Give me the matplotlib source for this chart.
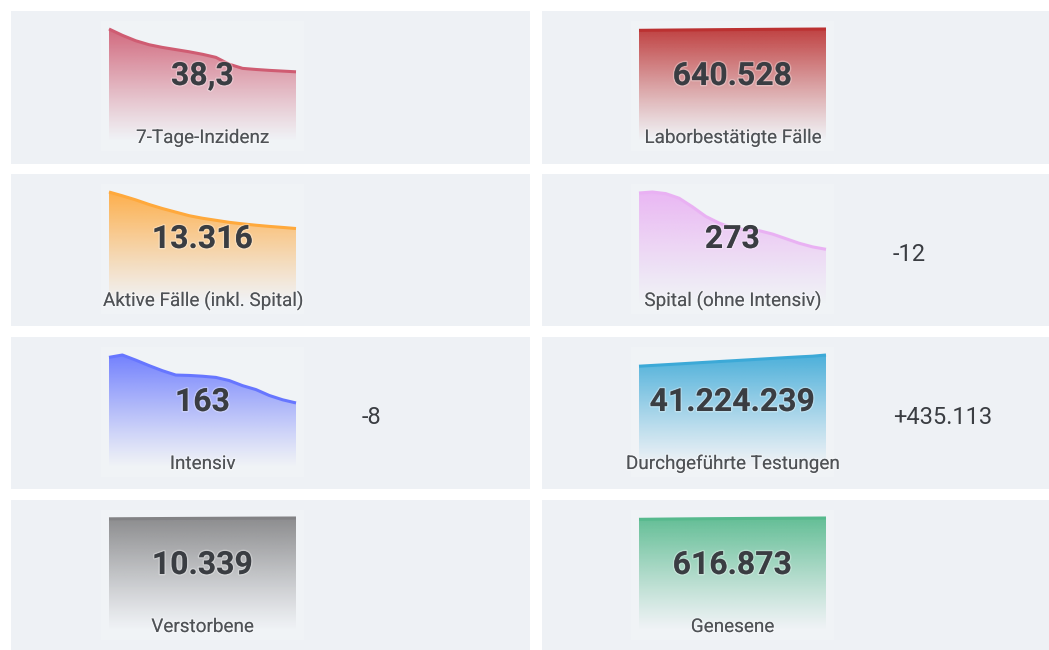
import matplotlib
matplotlib.use("Agg")
import matplotlib.pyplot as plt
import matplotlib.patheffects as pe
from matplotlib.patches import Rectangle
from matplotlib.colors import to_rgb
import numpy as np

# ---------------- data ----------------
titles = ["7-Tage-Inzidenz", "Laborbestätigte Fälle",
          "Aktive Fälle (inkl. Spital)", "Spital (ohne Intensiv)",
          "Intensiv", "Durchgeführte Testungen",
          "Verstorbene", "Genesene"]
values_text = ["38,3", "640.528", "13.316", "273", "163", "41.224.239", "10.339", "616.873"]
deltas_text = ["", "", "", "-12", "-8", "+435.113", "", ""]
colors = ["#c7405a", "#b00d0d", "#ff9a1a", "#e6a4f2",
          "#4d5fff", "#1b9bd1", "#6e6e70", "#3aae7a"]

inzidenz = [62.0, 58.5, 55.5, 53.3, 51.8, 50.6, 49.4, 48.0, 46.3, 42.5, 40.2, 39.6, 39.1, 38.7, 38.3]
faelle = [632900, 633600, 634300, 634900, 635500, 636100, 636700, 637300, 637800,
          638300, 638800, 639300, 639700, 640100, 640528]
aktiv = [19760, 19090, 18370, 17560, 16840, 16210, 15580, 15130, 14770,
         14410, 14140, 13900, 13690, 13510, 13316]
spital = [554, 559, 551, 528, 485, 437, 404, 379, 371, 366, 349, 326, 303, 285, 273]
intensiv = [279, 285, 272, 258, 245, 234, 233, 231, 228, 220, 207, 197, 182, 171, 163]
tests = [37.10e6, 37.38e6, 37.66e6, 37.95e6, 38.24e6, 38.53e6, 38.82e6, 39.10e6,
         39.39e6, 39.68e6, 39.97e6, 40.26e6, 40.54e6, 40.79e6, 41.224e6]
verstorbene = [10262, 10270, 10277, 10283, 10290, 10296, 10302, 10307, 10312,
               10317, 10322, 10327, 10331, 10335, 10339]
genesene = [609600, 610300, 611000, 611700, 612300, 612900, 613400, 613900, 614400,
            614800, 615200, 615600, 616000, 616400, 616873]
series = [inzidenz, faelle, aktiv, spital, intensiv, tests, verstorbene, genesene]

# ---------------- layout (pixels) ----------------
W, H = 1049, 650
fig = plt.figure(figsize=(W / 100, H / 100), dpi=100)
fig.patch.set_facecolor("white")

row_tops = [11, 174, 337, 500]
row_bots = [164, 326, 489, 652]
col_lefts = [11, 542]
col_rights = [530, 1052]
spark_left = [109, 639]
spark_w = 187
panel_bg = "#eef1f5"

num_font = ["Roboto", "DejaVu Sans"]
lab_font = ["Roboto", "DejaVu Sans"]


def fx(x):
    return x / W


def fy(y):
    return 1 - y / H


glow = [pe.withStroke(linewidth=2, foreground=(1, 1, 1, 0.3))]

for i in range(8):
    r, c = divmod(i, 2)
    top = row_tops[r]
    # panel background
    fig.add_artist(Rectangle((fx(col_lefts[c]), fy(row_bots[r])),
                             fx(col_rights[c] - col_lefts[c]),
                             (row_bots[r] - top) / H,
                             transform=fig.transFigure, facecolor=panel_bg,
                             edgecolor="none", zorder=0))
    # soft white halo behind sparkline
    fig.add_artist(Rectangle((fx(spark_left[c] - 8), fy(top + 140)),
                             fx(spark_w + 16), 130 / H,
                             transform=fig.transFigure, facecolor="white",
                             alpha=0.15, edgecolor="none", zorder=0.5))

    vals = np.array(series[i], dtype=float)
    x = np.arange(len(vals))
    ymax = vals.max()
    ax = fig.add_axes([fx(spark_left[c]), fy(top + 130), fx(spark_w), 112 / H])
    ax.set_axis_off()
    ax.patch.set_alpha(0)
    rgb = to_rgb(colors[i])
    grad = np.zeros((256, 1, 4))
    grad[..., :3] = rgb
    grad[:, 0, 3] = np.linspace(0.92, 0.0, 256) ** 1.1
    im = ax.imshow(grad, extent=[0, len(vals) - 1, 0, ymax], aspect="auto",
                   origin="upper", zorder=1, interpolation="bilinear")
    poly = ax.fill_between(x, vals, 0, facecolor="none", edgecolor="none")
    im.set_clip_path(poly.get_paths()[0], transform=ax.transData)
    ax.plot(x, vals, color=colors[i], lw=2.2, zorder=2, clip_on=False,
            solid_capstyle="butt", solid_joinstyle="round")
    ax.set_xlim(0, len(vals) - 1)
    ax.set_ylim(0, ymax)

    cx = spark_left[c] + spark_w / 2
    fig.text(fx(cx), fy(top + 74), values_text[i], ha="center", va="baseline",
             fontsize=23, fontweight="bold", color="#3a3d42", family=num_font,
             path_effects=glow, zorder=5)
    fig.text(fx(cx), fy(top + 132), titles[i], ha="center", va="baseline",
             fontsize=13.6, color="#4f5256", family=lab_font,
             path_effects=glow, zorder=5)
    if deltas_text[i]:
        fig.text(fx(col_lefts[c] + 351), fy(top + 87), deltas_text[i],
                 ha="left", va="baseline", fontsize=17, color="#3a3d42",
                 family=num_font, zorder=5)

fig.savefig("out.png", dpi=100, facecolor="white")
